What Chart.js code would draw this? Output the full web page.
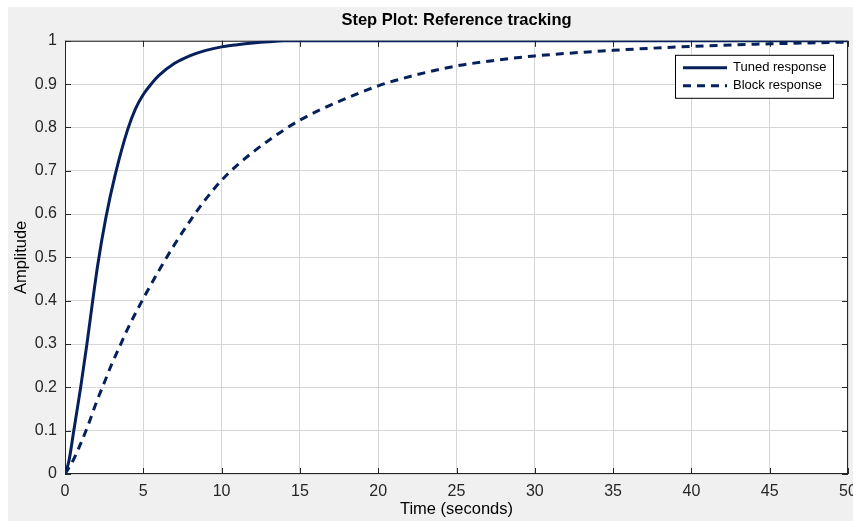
<!DOCTYPE html>
<html>
<head>
<meta charset="utf-8">
<script src="https://cdn.jsdelivr.net/npm/chart.js@4.4.0/dist/chart.umd.min.js"></script>
<style>
  body { margin: 0; background: #fff; }
  #wrap { width: 853px; height: 521px; }
</style>
</head>
<body>
<div id="wrap"><canvas id="chart1" width="853" height="521"></canvas></div>
<script>
// values
const tunedTime = [0, 0.25, 0.56, 1, 1.4, 1.75, 2.1, 2.6, 3.2, 4, 4.5, 5, 5.5, 6, 7, 8, 9, 10, 11, 12, 13, 14, 20, 30, 40, 50]
const tunedAmp = [0, 0.03, 0.1, 0.2, 0.3, 0.395, 0.485, 0.59, 0.69, 0.795, 0.843, 0.876, 0.9, 0.92, 0.948, 0.966, 0.978, 0.986, 0.991, 0.995, 0.998, 1, 1, 1, 1, 1]

const blockTime = [0, 0.5, 1, 1.5, 2, 2.5, 3, 3.5, 4, 5, 6, 7, 8, 9, 10, 11, 12, 13, 15, 17.5, 20, 22.5, 25, 27.5, 30, 35, 40, 45, 50]
const blockAmp = [0, 0.03, 0.07, 0.115, 0.165, 0.21, 0.255, 0.295, 0.335, 0.405, 0.47, 0.53, 0.585, 0.635, 0.678, 0.713, 0.743, 0.77, 0.817, 0.86, 0.896, 0.922, 0.942, 0.955, 0.965, 0.978, 0.987, 0.993, 0.997]

const xTicks = [0, 5, 10, 15, 20, 25, 30, 35, 40, 45, 50]
const yTicks = [0, 0.1, 0.2, 0.3, 0.4, 0.5, 0.6, 0.7, 0.8, 0.9, 1]

let lineColor = '#06205c'
let gridColor = '#d6d6d6'
let axisColor = '#262626'

Chart.defaults.font.family = "'Liberation Sans', Arial, Helvetica, sans-serif"
Chart.defaults.color = axisColor

function toPoints(xs, ys) {
    return xs.map((x, i) => ({x: x, y: ys[i]}))
}

// background, white plot area, box and inward tick marks
const plotFrame = {
    id: 'plotFrame',
    beforeDraw(chart) {
        const ctx = chart.ctx
        const a = chart.chartArea
        ctx.save()
        ctx.fillStyle = '#ffffff'
        ctx.fillRect(0, 0, chart.width, chart.height)
        ctx.fillStyle = '#f0f0f0'
        ctx.fillRect(8, 7, chart.width - 8, chart.height - 7)
        ctx.fillStyle = '#ffffff'
        ctx.fillRect(a.left, a.top, a.right - a.left, a.bottom - a.top)
        ctx.restore()
    },
    beforeDatasetsDraw(chart) {
        const ctx = chart.ctx
        const a = chart.chartArea
        const xs = chart.scales.x
        const ys = chart.scales.y
        ctx.save()
        ctx.strokeStyle = axisColor
        ctx.lineWidth = 1
        ctx.beginPath()
        xTicks.forEach(v => {
            const px = Math.round(xs.getPixelForValue(v)) + 0.5
            ctx.moveTo(px, a.bottom); ctx.lineTo(px, a.bottom - 6)
            ctx.moveTo(px, a.top); ctx.lineTo(px, a.top + 6)
        })
        yTicks.forEach(v => {
            const py = Math.round(ys.getPixelForValue(v)) + 0.5
            ctx.moveTo(a.left, py); ctx.lineTo(a.left + 6, py)
            ctx.moveTo(a.right, py); ctx.lineTo(a.right - 6, py)
        })
        ctx.stroke()
        ctx.strokeRect(a.left + 0.5, a.top + 0.5, a.right - a.left - 1, a.bottom - a.top - 1)
        ctx.restore()
    }
}

// boxed legend in the top right corner
const legendBox = {
    id: 'legendBox',
    afterDatasetsDraw(chart) {
        const ctx = chart.ctx
        const a = chart.chartArea
        const bx = a.right - 173, by = a.top + 14, bw = 158, bh = 43
        ctx.save()
        ctx.fillStyle = '#ffffff'
        ctx.fillRect(bx, by, bw, bh)
        ctx.strokeStyle = '#000000'
        ctx.lineWidth = 1
        ctx.strokeRect(bx + 0.5, by + 0.5, bw, bh)
        ctx.font = "13px 'Liberation Sans', Arial, sans-serif"
        ctx.textBaseline = 'middle'
        ctx.fillStyle = '#000000'
        chart.data.datasets.forEach((ds, i) => {
            const y = by + 13 + i * 18
            ctx.strokeStyle = ds.borderColor
            ctx.lineWidth = ds.borderWidth
            ctx.setLineDash(ds.borderDash || [])
            ctx.beginPath()
            ctx.moveTo(bx + 8, y)
            ctx.lineTo(bx + 52, y)
            ctx.stroke()
            ctx.setLineDash([])
            ctx.fillText(ds.label, bx + 58, y)
        })
        ctx.restore()
    }
}

const chart1 = document.querySelector('#chart1').getContext('2d')

new Chart(chart1, {
    type: 'line',
    data: {
        datasets: [
            {
                label: 'Tuned response',
                data: toPoints(tunedTime, tunedAmp),
                borderColor: lineColor,
                backgroundColor: lineColor,
                borderWidth: 3,
                pointRadius: 0,
                cubicInterpolationMode: 'monotone'
            },
            {
                label: 'Block response',
                data: toPoints(blockTime, blockAmp),
                borderColor: lineColor,
                backgroundColor: lineColor,
                borderWidth: 3,
                borderDash: [8, 6],
                pointRadius: 0,
                cubicInterpolationMode: 'monotone'
            }
        ]
    },
    options: {
        responsive: false,
        animation: false,
        layout: {
            padding: {left: 0, right: 5, top: 0, bottom: 0}
        },
        plugins: {
            legend: {display: false},
            tooltip: {enabled: false},
            title: {
                display: true,
                text: 'Step Plot: Reference tracking',
                fullSize: false,
                color: '#000000',
                font: {size: 16.5, weight: 'bold'},
                padding: {top: 11, bottom: 10}
            }
        },
        scales: {
            x: {
                type: 'linear',
                min: 0,
                max: 50,
                afterBuildTicks: scale => { scale.ticks = xTicks.map(v => ({value: v})) },
                afterFit: scale => { scale.height = 47; scale.paddingRight = 0; scale.paddingLeft = 0 },
                grid: {color: gridColor, drawTicks: false},
                border: {display: false},
                ticks: {
                    padding: 8,
                    maxRotation: 0,
                    color: axisColor,
                    font: {size: 16}
                },
                title: {
                    display: true,
                    text: 'Time (seconds)',
                    color: '#000000',
                    font: {size: 16.5},
                    padding: {top: 0, bottom: 2}
                }
            },
            y: {
                min: 0,
                max: 1,
                afterBuildTicks: scale => { scale.ticks = yTicks.map(v => ({value: v})) },
                afterFit: scale => { scale.width = 65 },
                grid: {color: gridColor, drawTicks: false},
                border: {display: false},
                ticks: {
                    padding: 8,
                    color: axisColor,
                    font: {size: 16},
                    callback: v => String(v)
                },
                title: {
                    display: true,
                    text: 'Amplitude',
                    color: '#000000',
                    font: {size: 16.5},
                    padding: {top: 12, bottom: 0}
                }
            }
        }
    },
    plugins: [plotFrame, legendBox]
})
</script>
</body>
</html>
